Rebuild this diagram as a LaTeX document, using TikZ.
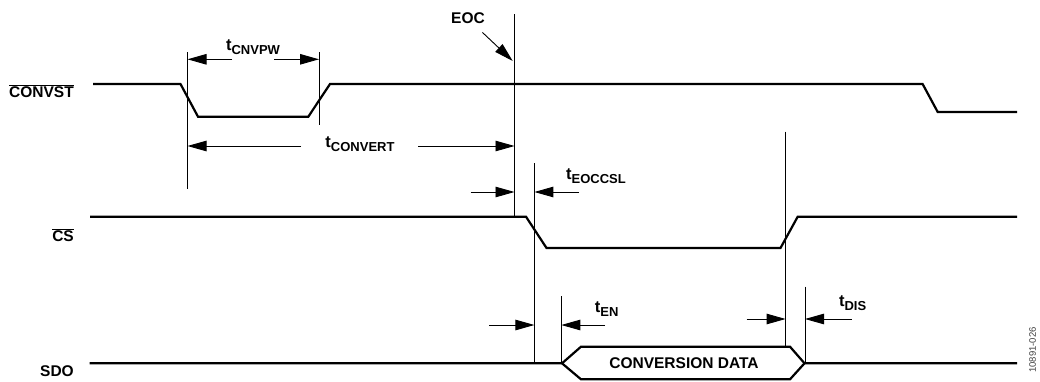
\documentclass[tikz,border=0pt]{standalone}
\usepackage{fontspec}
\setmainfont{Liberation Sans}
\usetikzlibrary{arrows.meta,positioning}

\newcommand{\tsym}[1]{{\fontsize{16.5}{16.5}\selectfont t}\raisebox{-4pt}{\fontsize{13}{13}\selectfont #1}}

\begin{document}
\begin{tikzpicture}[
    x=1pt, y=-1pt,
    font=\fontsize{15.5}{15.5}\selectfont\bfseries,
    sig/.style={line width=2.2pt},
    guide/.style={line width=0.9pt},
    dim/.style={line width=0.9pt, -{Triangle[length=19pt, width=10.5pt]}},
    lbl/.style={inner sep=0pt},
    pin/.style={inner sep=0pt, anchor=base east}
  ]
    \useasboundingbox (0,0) rectangle (1040,381);

    % signal names
    \node[pin] (convst) at (74,97.3) {$\overline{\mbox{CONVST}}$};
    \node[pin] (cs) at (74,241.7) {$\overline{\mbox{CS}}$};
    \node[pin] (sdo) at (74,376) {SDO};

    % waveforms
    \draw[sig] (93,84) -- (180.5,84) -- (198,116.7) -- (308.3,116.7) -- (330,84)
        -- (922.6,84) -- (937.7,112) -- (1017,112);
    \draw[sig] (90,216.7) -- (526,216.7) -- (546.5,248) -- (780.5,248)
        -- (797.7,216.7) -- (1017,216.7);
    \draw[sig] (89.5,363.3) -- (562,363.3) -- (581,346.7) -- (790,346.7)
        -- (804.5,363.3) -- (1017,363.3);
    \draw[sig] (562,363.3) -- (581,379.3) -- (790,379.3) -- (804.5,363.3);
    \node[lbl] (data) at (684,363) {CONVERSION DATA};

    % timing guides
    \coordinate (g1) at (187.5,52);
    \coordinate (g2) at (319,52);
    \coordinate (geoc) at (514.5,14);
    \coordinate (gcsl) at (534.4,163);
    \coordinate (gen) at (561.3,296);
    \coordinate (gcsh) at (785.6,131.7);
    \coordinate (gdis) at (805,286.5);
    \draw[guide] (g1) -- ++(0,137);
    \draw[guide] (g2) -- ++(0,73);
    \draw[guide] (geoc) -- ++(0,202.7);
    \draw[guide] (gcsl) -- ++(0,200.3);
    \draw[guide] (gen) -- ++(0,67.3);
    \draw[guide] (gcsh) -- ++(0,215);
    \draw[guide] (gdis) -- ++(0,76.8);

    % timing labels
    \node[lbl] (eoc) at (468,18.3) {EOC};
    \node[lbl] (tcnvpw) at (253,47.5) {\tsym{CNVPW}};
    \node[lbl] (tconvert) at (360,144) {\tsym{CONVERT}};
    \node[lbl] (teoccsl) at (596,176) {\tsym{EOCCSL}};
    \node[lbl] (ten) at (606.7,308.7) {\tsym{EN}};
    \node[lbl] (tdis) at (852.6,303) {\tsym{DIS}};

    % arrow tails
    \coordinate (pwA) at (232,59.3);
    \coordinate (pwB) at (274,59.3);
    \coordinate (cvA) at (301,146);
    \coordinate (cvB) at (418,146);
    \coordinate (ecA) at (470.7,192);
    \coordinate (ecB) at (579,192);
    \coordinate (enA) at (489,325);
    \coordinate (enB) at (605,325);
    \coordinate (dsA) at (746.5,319);
    \coordinate (dsB) at (851.7,319);
    \foreach \a/\g in {pwA/g1, pwB/g2, cvA/g1, cvB/geoc, ecA/geoc,
                       ecB/gcsl, enA/gcsl, enB/gen, dsA/gcsh, dsB/gdis}
      \draw[dim] (\a) -- (\a -| \g);

    \coordinate (eocTip) at (512.7,61);
    \draw[dim] ([shift={(-2.6,8.4)}]eoc.south east) -- (eocTip);

    \node[lbl, rotate=90, font=\fontsize{9.5}{9.5}\selectfont, text=black!75]
      (figno) at (1032.5,350) {10891-026};
\end{tikzpicture}
\end{document}
